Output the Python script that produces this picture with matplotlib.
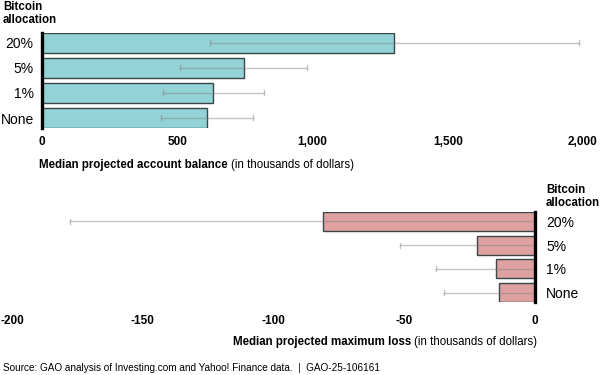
import matplotlib
matplotlib.use("Agg")
import matplotlib.pyplot as plt

plt.rcParams['font.family'] = ['Liberation Sans', 'DejaVu Sans']

categories = ["20%", "5%", "1%", "None"]

# median projected account balance (thousands of dollars) and range
balance = [1300, 748, 633, 611]
balance_low = [622, 511, 448, 441]
balance_high = [1985, 981, 819, 781]

# median projected maximum loss (thousands of dollars) and range
loss = [-81, -22.2, -14.9, -13.8]
loss_low = [-178, -51.6, -37.9, -34.8]
loss_high = [0, 0, 0, 0]

balance_ticks = [0, 500, 1000, 1500, 2000]
balance_ticklabels = ["0", "500", "1,000", "1,500", "2,000"]
loss_ticks = [-200, -150, -100, -50, 0]
loss_ticklabels = ["-200", "-150", "-100", "-50", "0"]

TEAL = "#93D2D6"
PINK = "#DFA0A0"
EDGE = "#3a4648"
ERR = "#808080"

fig = plt.figure(figsize=(6, 3.75), dpi=100)
W, H = 600, 375


def px_axes(left, right, top, bottom):
    return fig.add_axes([left / W, 1 - bottom / H, (right - left) / W, (bottom - top) / H])


def draw_ranges(ax, low, high):
    pos = range(len(low))
    for y, lo, hi in zip(pos, low, high):
        ax.plot([lo, hi], [y, y], color=ERR, alpha=0.45, lw=1, zorder=3)
        for v in (lo, hi):
            ax.plot([v, v], [y - 0.1, y + 0.1], color=ERR, alpha=0.45, lw=1, zorder=3)


def style(ax, side):
    for s in ax.spines.values():
        s.set_visible(False)
    ax.spines[side].set_visible(True)
    ax.spines[side].set_linewidth(2.4)
    ax.spines[side].set_color("black")
    ax.spines[side].set_zorder(5)
    ax.set_ylim(3.4, -0.4)
    ax.tick_params(axis="both", length=0)


# top chart
ax1 = px_axes(42, 583, 33, 128)
pos = list(range(len(categories)))
ax1.barh(pos, balance, height=0.8, color=TEAL, edgecolor=EDGE, linewidth=1, zorder=2)
draw_ranges(ax1, balance_low, balance_high)
style(ax1, "left")
ax1.set_xlim(0, 2000)
ax1.set_xticks(balance_ticks)
ax1.set_xticklabels(balance_ticklabels, fontsize=8.5, fontweight="bold")
ax1.set_yticks(pos)
ax1.set_yticklabels(categories, fontsize=10)
ax1.tick_params(axis="x", pad=6)
ax1.tick_params(axis="y", pad=6)

# bottom chart
ax2 = px_axes(12, 535, 212, 302)
ax2.barh(pos, loss, height=0.8, color=PINK, edgecolor=EDGE, linewidth=1, zorder=2)
draw_ranges(ax2, loss_low, loss_high)
style(ax2, "right")
ax2.set_xlim(-200, 0)
ax2.set_xticks(loss_ticks)
ax2.set_xticklabels(loss_ticklabels, fontsize=8.5, fontweight="bold")
ax2.yaxis.tick_right()
ax2.set_yticks(pos)
ax2.set_yticklabels(categories, fontsize=10)
ax2.tick_params(axis="x", pad=9)
ax2.tick_params(axis="y", pad=8)

# legend-style titles
fig.text(3 / W, 1 - 26 / H, "Bitcoin\nallocation", fontsize=8.3, fontweight="bold",
         va="bottom", ha="left", linespacing=1.15)
fig.text(546 / W, 1 - 209 / H, "Bitcoin\nallocation", fontsize=8.3, fontweight="bold",
         va="bottom", ha="left", linespacing=1.15)


def two_part(x, y, bold, normal):
    t = fig.text(x / W, 1 - y / H, bold, fontsize=8.3, fontweight="bold", va="center", ha="left")
    r = fig.canvas.get_renderer()
    bb = t.get_window_extent(renderer=r)
    fig.text(bb.x1 / (W) + 3 / W, 1 - y / H, normal, fontsize=8.3, va="center", ha="left")


two_part(39, 165, "Median projected account balance", "(in thousands of dollars)")
two_part(233, 342, "Median projected maximum loss", "(in thousands of dollars)")

fig.text(3 / W, 1 - 368 / H,
         "Source: GAO analysis of Investing.com and Yahoo! Finance data.  |  GAO-25-106161",
         fontsize=7.2, va="center", ha="left")

fig.savefig("out.png", dpi=100)
